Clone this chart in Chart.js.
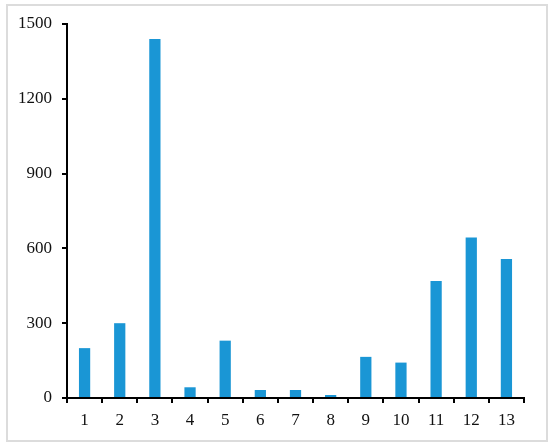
<!DOCTYPE html>
<html>
<head>
<meta charset="utf-8">
<script src="https://cdn.jsdelivr.net/npm/chart.js@4/dist/chart.umd.min.js"></script>
<style>
  html, body { margin: 0; padding: 0; background: #fff; }
  #wrap { position: relative; width: 550px; height: 447px; }
  #frame { position: absolute; left: 6px; top: 4px; width: 538px; height: 434px; border: 2px solid #dcdcdc; }
  #myChart { position: absolute; left: 0; top: 0; }
</style>
</head>
<body>
<div id="wrap">
  <div id="frame"></div>
  <canvas id="myChart" width="550" height="447"></canvas>
</div>
<script>
var categories = ['1', '2', '3', '4', '5', '6', '7', '8', '9', '10', '11', '12', '13']
var values = [200, 300, 1440, 43, 230, 32, 32, 12, 165, 142, 469, 644, 557]
var yTicks = [0, 300, 600, 900, 1200, 1500]

var tickFont = { family: '"Liberation Serif", "Times New Roman", serif', size: 17 }

var myChartNode = document.getElementById('myChart').getContext('2d');
var myChart = new Chart(myChartNode, {
    type: 'bar',
    data: {
        labels: categories,
        datasets: [{
            data: values,
            backgroundColor: '#1a96d5',
            borderWidth: 0,
            barPercentage: 0.32,
            categoryPercentage: 1
        }]
    },
    options: {
        responsive: false,
        animation: false,
        layout: { padding: { left: 0, right: 26, top: 24, bottom: 0 } },
        plugins: {
            legend: { display: false },
            tooltip: { enabled: false }
        },
        scales: {
            x: {
                grid: { drawOnChartArea: false, tickLength: 5, color: '#000', lineWidth: 2 },
                border: { color: '#000', width: 2 },
                ticks: { color: '#111', font: tickFont, padding: 7 },
                afterFit: function (scale) { scale.height = 49 }
            },
            y: {
                min: 0,
                max: 1500,
                afterBuildTicks: function (scale) {
                    scale.ticks = yTicks.map(function (v) { return { value: v } })
                },
                grid: { drawOnChartArea: false, tickLength: 5, color: '#000', lineWidth: 2 },
                border: { color: '#000', width: 2 },
                ticks: {
                    color: '#111',
                    font: tickFont,
                    padding: 10,
                    callback: function (v) { return String(v) }
                },
                afterFit: function (scale) { scale.width = 67 }
            }
        }
    }
});
</script>
</body>
</html>
